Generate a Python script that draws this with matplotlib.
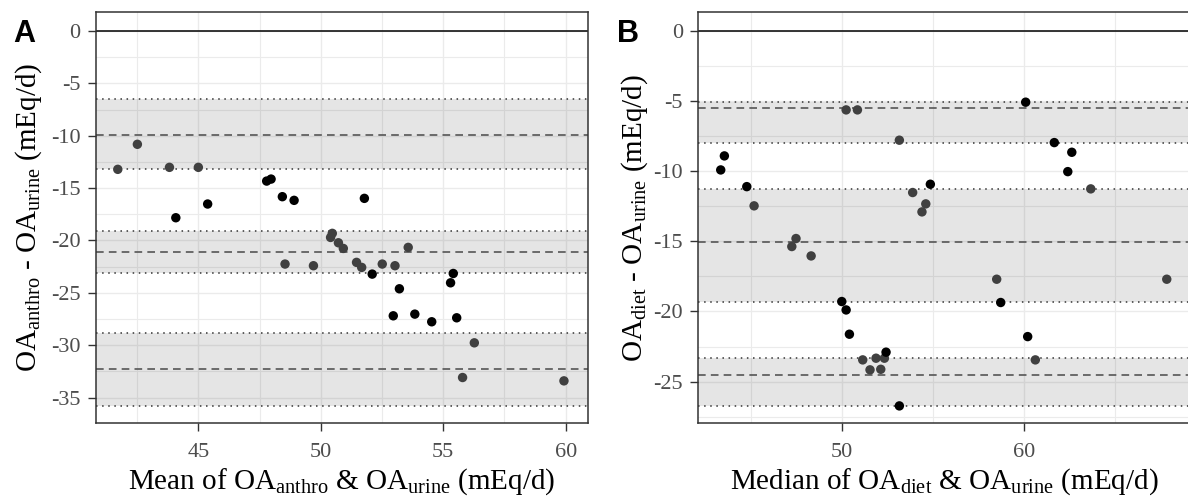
import matplotlib
matplotlib.use("Agg")
import matplotlib.pyplot as plt
from matplotlib.ticker import MultipleLocator

plt.rcParams["font.family"] = ["Liberation Serif", "DejaVu Serif"]
plt.rcParams["mathtext.fontset"] = "custom"
plt.rcParams["mathtext.rm"] = "Liberation Serif"
plt.rcParams["mathtext.it"] = "Liberation Serif:italic"
plt.rcParams["axes.unicode_minus"] = False

# ---- panel A: mean of anthro & urine vs difference ----
a_mean = [41.71, 42.51, 43.82, 44.08, 45.00, 45.38, 47.79, 47.97, 48.43, 48.91,
          51.78, 48.54, 49.70, 50.47, 50.40, 50.72, 50.92, 51.46, 51.67, 52.10,
          52.51, 53.03, 53.57, 53.21, 52.96, 53.84, 54.53, 55.30, 55.41, 55.55,
          56.27, 55.79, 59.93]
a_diff = [-13.21, -10.82, -13.02, -17.83, -13.02, -16.52, -14.33, -14.14, -15.82, -16.17,
          -15.98, -22.25, -22.41, -19.32, -19.71, -20.22, -20.76, -22.09, -22.57, -23.21,
          -22.25, -22.41, -20.66, -24.61, -27.19, -27.03, -27.76, -24.04, -23.15, -27.38,
          -29.77, -33.08, -33.40]
a_inband = [1, 1, 1, 0, 1, 0, 0, 0, 0, 0,
            0, 1, 1, 1, 1, 1, 1, 1, 1, 0,
            1, 1, 1, 0, 0, 0, 0, 0, 0, 0,
            1, 1, 1]
# limits of agreement (dashed) and their confidence bands (dotted / shaded)
a_lines = [-9.93, -21.14, -32.31]
a_bands = [(-6.46, -13.21), (-19.10, -23.15), (-28.81, -35.82)]

# ---- panel B: median of diet & urine vs difference ----
b_med = [43.36, 43.56, 44.79, 45.19, 47.26, 47.49, 48.32, 50.00, 50.24, 50.42,
         50.24, 50.86, 53.16, 53.89, 54.40, 54.61, 54.86, 51.15, 51.55, 51.88,
         52.14, 52.34, 52.43, 53.16, 58.50, 58.72, 60.09, 60.20, 60.62, 61.66,
         62.62, 62.40, 63.66, 67.83]
b_diff = [-9.91, -8.91, -11.10, -12.47, -15.37, -14.80, -16.04, -19.29, -19.89, -21.62,
          -5.63, -5.63, -7.79, -11.52, -12.90, -12.33, -10.93, -23.45, -24.16, -23.33,
          -24.12, -23.33, -22.90, -26.73, -17.70, -19.36, -5.08, -21.79, -23.45, -7.96,
          -8.65, -10.03, -11.26, -17.70]
b_inband = [0, 0, 0, 1, 1, 1, 1, 0, 0, 0,
            1, 1, 1, 1, 1, 1, 0, 1, 1, 1,
            1, 1, 0, 0, 1, 0, 0, 0, 1, 0,
            0, 0, 1, 1]
b_lines = [-5.51, -15.06, -24.52]
b_bands = [(-5.04, -7.96), (-11.26, -19.34), (-23.33, -26.73)]

GRID = "#ebebeb"
FRAME = "#333333"
TICKLAB = "#4d4d4d"
PT_IN = "#404040"
PT_OUT = "#000000"


def panel(ax, x, y, inband, lines, bands, xmaj, xmin, ymaj, ymin,
          xlim, ylim, xlabel, ylabel, ylab_x):
    ax.set_axisbelow(True)
    ax.xaxis.set_major_locator(MultipleLocator(xmaj))
    ax.xaxis.set_minor_locator(MultipleLocator(xmin))
    ax.yaxis.set_major_locator(MultipleLocator(ymaj))
    ax.yaxis.set_minor_locator(MultipleLocator(ymin))
    ax.grid(which="major", color=GRID, lw=1.0)
    ax.grid(which="minor", color=GRID, lw=0.8)

    for top, bot in bands:
        ax.axhspan(bot, top, color="black", alpha=0.1, lw=0, zorder=1)
        ax.axhline(top, color=FRAME, lw=1.1, dashes=(1, 3), zorder=2)
        ax.axhline(bot, color=FRAME, lw=1.1, dashes=(1, 3), zorder=2)
    for v in lines:
        ax.axhline(v, color="#555555", lw=1.2, dashes=(4.6, 3.1), zorder=2)
    ax.axhline(0, color="black", lw=1.1, zorder=2)

    cols = [PT_IN if f else PT_OUT for f in inband]
    ax.scatter(x, y, s=46, c=cols, lw=0, zorder=3)

    ax.set_xlim(*xlim)
    ax.set_ylim(*ylim)
    for sp in ax.spines.values():
        sp.set_color(FRAME)
        sp.set_linewidth(1.1)
    ax.tick_params(which="major", length=6, width=1.0, color=FRAME,
                   labelcolor=TICKLAB, labelsize=16)
    ax.tick_params(axis="x", which="major", pad=8)
    ax.tick_params(axis="y", which="major", pad=5)
    ax.tick_params(which="minor", length=0)

    ax.set_xlabel(xlabel, fontsize=21, va="baseline")
    ax.xaxis.set_label_coords(0.5, -0.158)
    ax.set_ylabel(ylabel, fontsize=21, va="baseline")
    ax.yaxis.set_label_coords(ylab_x, 0.5)


fig = plt.figure(figsize=(11.88, 4.97), dpi=100)
axA = fig.add_axes([0.0808, 0.1483, 0.4139, 0.8276])
axB = fig.add_axes([0.5878, 0.1483, 0.4135, 0.8276])

panel(axA, a_mean, a_diff, a_inband, a_lines, a_bands, 5, 2.5, 5, 2.5,
      (40.82, 60.9), (-37.45, 1.81),
      r"Mean of OA$_{\mathrm{anthro}}$ & OA$_{\mathrm{urine}}$ (mEq/d)",
      r"OA$_{\mathrm{anthro}}$ - OA$_{\mathrm{urine}}$ (mEq/d)", -0.123)
panel(axB, b_med, b_diff, b_inband, b_lines, b_bands, 10, 5, 5, 2.5,
      (42.13, 69.08), (-27.97, 1.35),
      r"Median of OA$_{\mathrm{diet}}$ & OA$_{\mathrm{urine}}$ (mEq/d)",
      r"OA$_{\mathrm{diet}}$ - OA$_{\mathrm{urine}}$ (mEq/d)", -0.115)

fig.text(13 / 1188, 1 - 42 / 497, "A", fontsize=22, fontweight="bold",
         family=["Liberation Sans", "DejaVu Sans"], ha="left", va="baseline")
fig.text(617 / 1188, 1 - 42 / 497, "B", fontsize=22, fontweight="bold",
         family=["Liberation Sans", "DejaVu Sans"], ha="left", va="baseline")

fig.savefig("out.png", dpi=100, facecolor="white")
